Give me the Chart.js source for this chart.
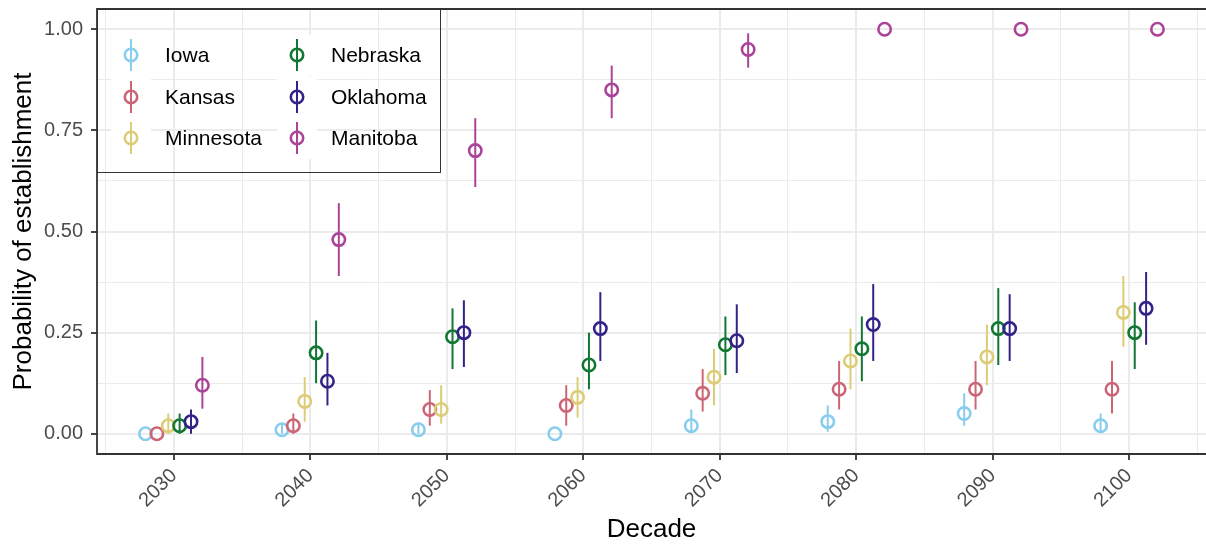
<!DOCTYPE html>
<html>
<head>
<meta charset="utf-8">
<script src="https://cdn.jsdelivr.net/npm/chart.js@4.4.1/dist/chart.umd.min.js"></script>
<style>
  html, body { margin: 0; padding: 0; background: #fff; }
  #wrap { width: 1206px; height: 545px; }
</style>
</head>
<body>
<div id="wrap"><canvas id="estChart" width="1206" height="545"></canvas></div>
<script>
// decades on the x axis
const decades = [2030, 2040, 2050, 2060, 2070, 2080, 2090, 2100];
const yTickLabels = ['0.00', '0.25', '0.50', '0.75', '1.00'];

const states = ['Iowa', 'Kansas', 'Minnesota', 'Nebraska', 'Oklahoma', 'Manitoba'];
const colors = ['#88CCEE', '#CC6677', '#DDCC77', '#117733', '#332288', '#AA4499'];

// estimate, lower and upper bound per decade
const iowa      = [0.00, 0.01, 0.01, 0.00, 0.02, 0.03, 0.05, 0.02];
const iowaLo    = [0.00, 0.00, 0.00, 0.00, 0.005, 0.005, 0.02, 0.005];
const iowaHi    = [0.00, 0.025, 0.027, 0.00, 0.06, 0.07, 0.10, 0.05];

const kansas    = [0.00, 0.02, 0.06, 0.07, 0.10, 0.11, 0.11, 0.11];
const kansasLo  = [0.00, 0.00, 0.02, 0.02, 0.055, 0.06, 0.06, 0.05];
const kansasHi  = [0.00, 0.05, 0.108, 0.12, 0.16, 0.18, 0.18, 0.18];

const minnesota   = [0.02, 0.08, 0.06, 0.09, 0.14, 0.18, 0.19, 0.30];
const minnesotaLo = [0.00, 0.03, 0.025, 0.04, 0.07, 0.11, 0.12, 0.215];
const minnesotaHi = [0.05, 0.14, 0.12, 0.14, 0.21, 0.26, 0.27, 0.39];

const nebraska   = [0.02, 0.20, 0.24, 0.17, 0.22, 0.21, 0.26, 0.25];
const nebraskaLo = [0.00, 0.125, 0.16, 0.11, 0.145, 0.13, 0.17, 0.16];
const nebraskaHi = [0.05, 0.28, 0.31, 0.25, 0.29, 0.29, 0.36, 0.325];

const oklahoma   = [0.03, 0.13, 0.25, 0.26, 0.23, 0.27, 0.26, 0.31];
const oklahomaLo = [0.00, 0.07, 0.165, 0.18, 0.15, 0.18, 0.18, 0.22];
const oklahomaHi = [0.06, 0.20, 0.33, 0.35, 0.32, 0.37, 0.345, 0.40];

const manitoba   = [0.12, 0.48, 0.70, 0.85, 0.95, 1.00, 1.00, 1.00];
const manitobaLo = [0.062, 0.39, 0.61, 0.78, 0.905, 1.00, 1.00, 1.00];
const manitobaHi = [0.19, 0.57, 0.78, 0.91, 0.99, 1.00, 1.00, 1.00];

const values = [iowa, kansas, minnesota, nebraska, oklahoma, manitoba];
const lows   = [iowaLo, kansasLo, minnesotaLo, nebraskaLo, oklahomaLo, manitobaLo];
const highs  = [iowaHi, kansasHi, minnesotaHi, nebraskaHi, oklahomaHi, manitobaHi];

const dodge = 5 / 6; // years between neighbouring states
const FONT = '"Liberation Sans", Arial, Helvetica, sans-serif';

const datasets = states.map((name, i) => ({
    label: name,
    data: decades.map((d, j) => ({
        x: d + (i - 2.5) * dodge,
        y: values[i][j],
        lo: lows[i][j],
        hi: highs[i][j]
    })),
    borderColor: colors[i],
    backgroundColor: 'rgba(0,0,0,0)',
    pointRadius: 6.2,
    pointBorderWidth: 2.6,
    showLine: false,
    order: states.length - i
}));

// vertical error bars, drawn under the circles
const errorBars = {
    id: 'errorBars',
    beforeDatasetsDraw(chart) {
        const { ctx, scales: { x, y } } = chart;
        ctx.save();
        ctx.lineWidth = 2;
        chart.data.datasets.forEach(ds => {
            ctx.strokeStyle = ds.borderColor;
            ds.data.forEach(p => {
                if (p.hi - p.lo < 0.001) return;
                const px = x.getPixelForValue(p.x);
                ctx.beginPath();
                ctx.moveTo(px, y.getPixelForValue(p.lo));
                ctx.lineTo(px, y.getPixelForValue(p.hi));
                ctx.stroke();
            });
        });
        ctx.restore();
    }
};

// panel border + ggplot style legend inside the panel
const panelAndLegend = {
    id: 'panelAndLegend',
    afterDraw(chart) {
        const { ctx, chartArea: a } = chart;
        ctx.save();
        ctx.strokeStyle = '#333333';
        ctx.lineWidth = 1.8;
        ctx.beginPath();
        ctx.moveTo(a.right + 2, a.top);
        ctx.lineTo(a.left, a.top);
        ctx.lineTo(a.left, a.bottom);
        ctx.lineTo(a.right + 2, a.bottom);
        ctx.stroke();

        // legend box
        const bx = a.left, by = a.top, bw = 343, bh = 163;
        ctx.lineWidth = 1;
        ctx.strokeRect(bx + 0.5, by + 0.5, bw, bh);

        const colX = [bx + 34, bx + 200];
        const rowY = [by + 46, by + 88, by + 129];
        ctx.font = '21px ' + FONT;
        ctx.textBaseline = 'middle';
        ctx.textAlign = 'left';
        states.forEach((name, i) => {
            const cx = colX[Math.floor(i / 3)];
            const cy = rowY[i % 3];
            ctx.fillStyle = '#ffffff';
            ctx.fillRect(cx - 20, cy - 20, 40, 41);
            ctx.strokeStyle = colors[i];
            ctx.lineWidth = 2;
            ctx.beginPath();
            ctx.moveTo(cx, cy - 16);
            ctx.lineTo(cx, cy + 16);
            ctx.stroke();
            ctx.lineWidth = 2.6;
            ctx.beginPath();
            ctx.arc(cx, cy, 6.2, 0, Math.PI * 2);
            ctx.stroke();
            ctx.fillStyle = '#000000';
            ctx.fillText(name, cx + 34, cy + 1);
        });
        ctx.restore();
    }
};

const xTicks = [];
for (let v = decades[0] - 5; v <= decades[decades.length - 1] + 5; v += 5) xTicks.push(v);
const yTicks = [];
for (let k = 0; k <= 8; k++) yTicks.push(k * 0.125);

const isMajorX = v => decades.includes(v);
const isMajorY = v => Math.abs(v * 4 - Math.round(v * 4)) < 1e-6;

const ctx = document.getElementById('estChart').getContext('2d');
const estChart = new Chart(ctx, {
    type: 'scatter',
    data: { datasets: datasets },
    plugins: [errorBars, panelAndLegend],
    options: {
        responsive: false,
        animation: false,
        events: [],
        layout: { autoPadding: false, padding: { top: 9, right: 0, bottom: 0, left: 0 } },
        plugins: {
            legend: { display: false },
            tooltip: { enabled: false }
        },
        scales: {
            x: {
                type: 'linear',
                min: 2024.36,
                max: 2105.64,
                afterBuildTicks: s => { s.ticks = xTicks.map(v => ({ value: v })); },
                afterFit: s => {
                    s.height = 91;
                    s.paddingLeft = 0;
                    s.paddingRight = 0;
                },
                border: { display: false },
                grid: {
                    color: '#EBEBEB',
                    lineWidth: c => (isMajorX(c.tick.value) ? 2 : 1),
                    tickColor: c => (isMajorX(c.tick.value) ? '#333333' : 'rgba(0,0,0,0)'),
                    tickLength: 6,
                    tickWidth: 1.8
                },
                ticks: {
                    autoSkip: false,
                    minRotation: 45,
                    maxRotation: 45,
                    padding: 4,
                    color: '#4D4D4D',
                    font: { family: FONT, size: 20 },
                    callback: v => (isMajorX(v) ? String(decades[decades.indexOf(v)]) : '')
                },
                title: {
                    display: true,
                    text: 'Decade',
                    color: '#000000',
                    font: { family: FONT, size: 26 },
                    padding: { top: 0, bottom: 0 }
                }
            },
            y: {
                min: -0.05,
                max: 1.05,
                afterBuildTicks: s => { s.ticks = yTicks.map(v => ({ value: v })); },
                afterFit: s => {
                    s.width = 97;
                    s.paddingTop = 0;
                    s.paddingBottom = 0;
                },
                border: { display: false },
                grid: {
                    color: '#EBEBEB',
                    lineWidth: c => (isMajorY(c.tick.value) ? 2 : 1),
                    tickColor: c => (isMajorY(c.tick.value) ? '#333333' : 'rgba(0,0,0,0)'),
                    tickLength: 6,
                    tickWidth: 1.8
                },
                ticks: {
                    autoSkip: false,
                    padding: 8,
                    color: '#4D4D4D',
                    font: { family: FONT, size: 20 },
                    callback: v => (isMajorY(v) ? yTickLabels[Math.round(v * 4)] : '')
                },
                title: {
                    display: true,
                    text: 'Probability of establishment',
                    color: '#000000',
                    font: { family: FONT, size: 26 },
                    padding: { top: 8, bottom: 0 }
                }
            }
        }
    }
});
</script>
</body>
</html>
